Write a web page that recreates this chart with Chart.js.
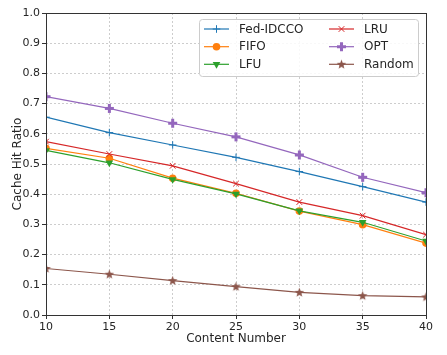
<!DOCTYPE html>
<html><head><meta charset="utf-8">
<script src="https://cdn.jsdelivr.net/npm/chart.js@4.4.0/dist/chart.umd.min.js"></script>
<style>html,body{margin:0;padding:0;background:#fff}#wrap{width:447px;height:355px;position:relative}</style>
</head><body><div id="wrap"><canvas id="c" width="447" height="355"></canvas></div>
<script>
const contentNumbers = [10, 15, 20, 25, 30, 35, 40];
const fedIDCCO = [0.655, 0.604, 0.563, 0.522, 0.475, 0.425, 0.374];
const fifo     = [0.552, 0.519, 0.453, 0.403, 0.344, 0.299, 0.238];
const lfu      = [0.545, 0.504, 0.449, 0.401, 0.345, 0.307, 0.245];
const lru      = [0.574, 0.533, 0.494, 0.435, 0.374, 0.329, 0.266];
const opt      = [0.723, 0.684, 0.635, 0.590, 0.530, 0.456, 0.405];
const random   = [0.154, 0.135, 0.114, 0.094, 0.075, 0.064, 0.060];
const seriesNames = ['Fed-IDCCO', 'FIFO', 'LFU', 'LRU', 'OPT', 'Random'];
const yTickLabels = ['0.0','0.1','0.2','0.3','0.4','0.5','0.6','0.7','0.8','0.9','1.0'];

const FONT = "'DejaVu Sans', 'Liberation Sans', sans-serif";
Chart.defaults.font.family = FONT;
Chart.defaults.color = '#262626';

function starMarker(color) {
  const c = document.createElement('canvas'); c.width = 11; c.height = 11;
  const g = c.getContext('2d'); g.fillStyle = color; g.beginPath();
  for (let i = 0; i < 10; i++) {
    const r = i % 2 === 0 ? 5 : 2.1;
    const a = -Math.PI / 2 + i * Math.PI / 5;
    const px = 5.5 + r * Math.cos(a), py = 5.8 + r * Math.sin(a);
    i === 0 ? g.moveTo(px, py) : g.lineTo(px, py);
  }
  g.closePath(); g.fill(); return c;
}
function plusMarker(color) {
  const c = document.createElement('canvas'); c.width = 11; c.height = 11;
  const g = c.getContext('2d'); g.fillStyle = color;
  g.fillRect(4, 1, 3, 9); g.fillRect(1, 4, 9, 3); return c;
}

const colors = ['#1f77b4', '#ff7f0e', '#2ca02c', '#d62728', '#9467bd', '#8c564b'];
const values = [fedIDCCO, fifo, lfu, lru, opt, random];
const styles = [
  {pointStyle: 'cross', radius: 3.8, rotation: 0, borderWidth: 1},
  {pointStyle: 'circle', radius: 3.8, rotation: 0, borderWidth: 0},
  {pointStyle: 'triangle', radius: 4.4, rotation: 180, borderWidth: 0},
  {pointStyle: 'crossRot', radius: 4, rotation: 0, borderWidth: 1},
  {pointStyle: plusMarker(colors[4]), radius: 5, rotation: 0, borderWidth: 0},
  {pointStyle: starMarker(colors[5]), radius: 5, rotation: 0, borderWidth: 0}
];

const datasets = seriesNames.map((name, i) => ({
  label: name,
  data: values[i],
  borderColor: colors[i],
  backgroundColor: colors[i],
  pointBackgroundColor: colors[i],
  pointBorderColor: colors[i],
  pointStyle: styles[i].pointStyle,
  pointRadius: styles[i].radius,
  pointRotation: styles[i].rotation,
  pointBorderWidth: styles[i].borderWidth,
  borderWidth: 1.2,
  tension: 0,
  fill: false,
  clip: 0,
  order: 10 - i
}));

const frame = {
  id: 'frame',
  afterDraw(chart) {
    const {ctx, chartArea: a} = chart;
    ctx.save(); ctx.strokeStyle = '#333'; ctx.lineWidth = 1;
    ctx.strokeRect(Math.round(a.left) + 0.5, Math.round(a.top) + 0.5, Math.round(a.right - a.left), Math.round(a.bottom - a.top));
    ctx.restore();
  }
};

const legendBox = {
  id: 'legendBox',
  afterDraw(chart) {
    const {ctx} = chart;
    const x0 = 199, y0 = 19, w = 219, h = 57;
    ctx.save();
    ctx.beginPath();
    if (ctx.roundRect) ctx.roundRect(x0 + 0.5, y0 + 0.5, w, h, 3); else ctx.rect(x0 + 0.5, y0 + 0.5, w, h);
    ctx.fillStyle = 'rgba(255,255,255,0.85)'; ctx.fill();
    ctx.strokeStyle = '#cccccc'; ctx.lineWidth = 1; ctx.stroke();
    const colX = [204, 329], rowY = [29, 46.7, 64.3];
    chart.data.datasets.forEach((ds, i) => {
      const col = Math.floor(i / 3), row = i % 3;
      const lx = colX[col], ly = rowY[row];
      ctx.strokeStyle = ds.borderColor; ctx.lineWidth = 1.2;
      ctx.beginPath(); ctx.moveTo(lx, ly); ctx.lineTo(lx + 25, ly); ctx.stroke();
      ctx.fillStyle = ds.pointBackgroundColor; ctx.strokeStyle = ds.pointBorderColor;
      ctx.lineWidth = ds.pointBorderWidth || 1;
      Chart.helpers.drawPoint(ctx, {pointStyle: ds.pointStyle, radius: ds.pointRadius, rotation: ds.pointRotation, borderWidth: ds.pointBorderWidth}, lx + 12.5, ly);
      ctx.fillStyle = '#262626'; ctx.font = '12px ' + FONT; ctx.textBaseline = 'middle'; ctx.textAlign = 'left';
      ctx.fillText(ds.label, lx + 35, ly + 0.5);
    });
    ctx.restore();
  }
};

new Chart(document.getElementById('c'), {
  type: 'line',
  data: {labels: contentNumbers, datasets},
  options: {
    responsive: false,
    animation: false,
    devicePixelRatio: 1,
    layout: {padding: {left: 0, right: 21, top: 13, bottom: 0}},
    plugins: {legend: {display: false}, tooltip: {enabled: false}},
    scales: {
      x: {
        type: 'category',
        offset: false,
        grid: {color: '#c0c0c0', lineWidth: 0.8, tickColor: '#333', tickLength: 4, tickWidth: 1},
        border: {display: false, dash: [2, 2]},
        ticks: {font: {size: 11}, color: '#262626', padding: 2, maxRotation: 0, autoSkip: false},
        title: {display: true, text: 'Content Number', font: {size: 12}, color: '#262626', padding: {top: 0, bottom: 9}},
        afterFit(s) { s.height = 40; }
      },
      y: {
        min: 0, max: 1,
        grid: {color: '#c0c0c0', lineWidth: 0.8, tickColor: '#333', tickLength: 4, tickWidth: 1},
        border: {display: false, dash: [2, 2]},
        ticks: {stepSize: 0.1, font: {size: 11}, color: '#262626', padding: 2,
          callback: (v, i) => yTickLabels[i]},
        title: {display: true, text: 'Cache Hit Ratio', font: {size: 12}, color: '#262626', padding: {top: 11, bottom: 0}},
        afterFit(s) { s.width = 46; }
      }
    }
  },
  plugins: [frame, legendBox]
});
</script></body></html>
